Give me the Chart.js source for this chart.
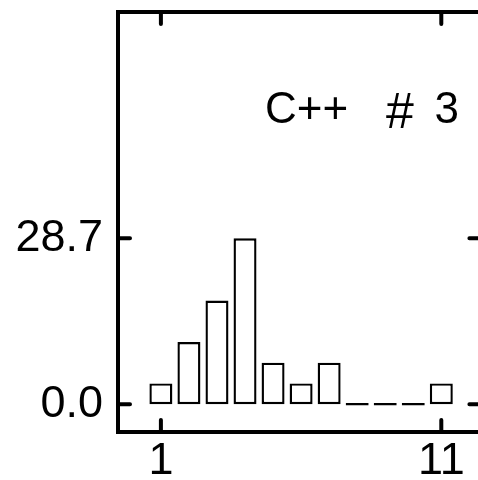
<!DOCTYPE html>
<html>
<head>
<meta charset="utf-8">
<script src="https://cdn.jsdelivr.net/npm/chart.js@4/dist/chart.umd.min.js"></script>
<style>
  html, body { margin: 0; padding: 0; background: #fff; overflow: hidden; }
  #wrap { width: 478px; height: 480px; overflow: hidden; }
</style>
</head>
<body>
<div id="wrap"><canvas id="histChart" width="486" height="480"></canvas></div>
<script>
// Datos del histograma
const bins = [1, 2, 3, 4, 5, 6, 7, 8, 9, 10, 11];
const values = [3.59, 10.76, 17.94, 28.7, 7.18, 3.59, 7.18, 0, 0, 0, 3.59];
const xTicks = [1, 11];
const yTicks = [0, 28.7];
const label = 'C++';
const hashSign = '#';
const tagNumber = '3';

const fontFamily = '"Liberation Sans", Arial, sans-serif';

// Marco y marcas hacia adentro, usando las escalas del gráfico
const framePlugin = {
    id: 'frame',
    afterDraw(chart) {
        const { ctx, chartArea: a, scales } = chart;
        const len = 12;
        ctx.save();
        ctx.strokeStyle = '#000';
        ctx.lineWidth = 4;
        ctx.lineCap = 'round';
        ctx.beginPath();
        yTicks.forEach(v => {
            const y = scales.y.getPixelForValue(v);
            ctx.moveTo(a.left, y); ctx.lineTo(a.left + len, y);
            ctx.moveTo(a.right, y); ctx.lineTo(a.right - len, y);
        });
        xTicks.forEach(v => {
            const x = scales.x.getPixelForValue(v);
            ctx.moveTo(x, a.top); ctx.lineTo(x, a.top + len);
            ctx.moveTo(x, a.bottom); ctx.lineTo(x, a.bottom - len);
        });
        ctx.stroke();
        ctx.lineCap = 'butt';
        ctx.strokeRect(a.left, a.top, a.right - a.left, a.bottom - a.top);

        // Etiqueta dentro del gráfico
        ctx.fillStyle = '#000';
        ctx.textBaseline = 'alphabetic';
        ctx.font = '44px ' + fontFamily;
        ctx.textAlign = 'left';
        ctx.fillText(label, a.left + 147, a.top + 111);
        ctx.textAlign = 'right';
        ctx.fillText(tagNumber, a.left + 341, a.top + 111);
        ctx.font = '50px ' + fontFamily;
        ctx.textAlign = 'left';
        ctx.fillText(hashSign, a.left + 268, a.top + 116);
        ctx.restore();
    }
};

const ctx = document.getElementById('histChart').getContext('2d');
const histChart = new Chart(ctx, {
    type: 'bar',
    data: {
        datasets: [{
            data: bins.map((b, i) => ({ x: b, y: values[i] })),
            backgroundColor: '#fff',
            borderColor: '#000',
            borderWidth: 2.4,
            borderSkipped: false,
            minBarLength: 2.4,
            barPercentage: 0.82,
            categoryPercentage: 1.0
        }]
    },
    options: {
        responsive: false,
        animation: false,
        layout: { padding: { left: 0, top: 12, right: 4.6, bottom: 0 } },
        plugins: { legend: { display: false }, tooltip: { enabled: false } },
        scales: {
            x: {
                type: 'linear',
                offset: false,
                min: -0.53,
                max: 12.43,
                grid: { display: false, drawTicks: false, offset: false },
                border: { display: false },
                afterBuildTicks: s => { s.ticks = xTicks.map(v => ({ value: v })); },
                afterFit: s => {
                    s.height = 48;
                    s.paddingLeft = 0;
                    s.paddingRight = 0;
                },
                ticks: {
                    padding: 3,
                    color: '#000',
                    font: { family: fontFamily, size: 45 },
                    maxRotation: 0,
                    callback: v => String(v)
                }
            },
            y: {
                min: -4.81,
                max: 67.85,
                grid: { display: false, drawTicks: false },
                border: { display: false },
                afterBuildTicks: s => { s.ticks = yTicks.map(v => ({ value: v })); },
                afterFit: s => {
                    s.width = 118;
                    s.paddingTop = 0;
                    s.paddingBottom = 0;
                },
                ticks: {
                    padding: 15,
                    color: '#000',
                    font: { family: fontFamily, size: 45 },
                    callback: v => Number(v).toFixed(1)
                }
            }
        }
    },
    plugins: [framePlugin]
});
</script>
</body>
</html>
